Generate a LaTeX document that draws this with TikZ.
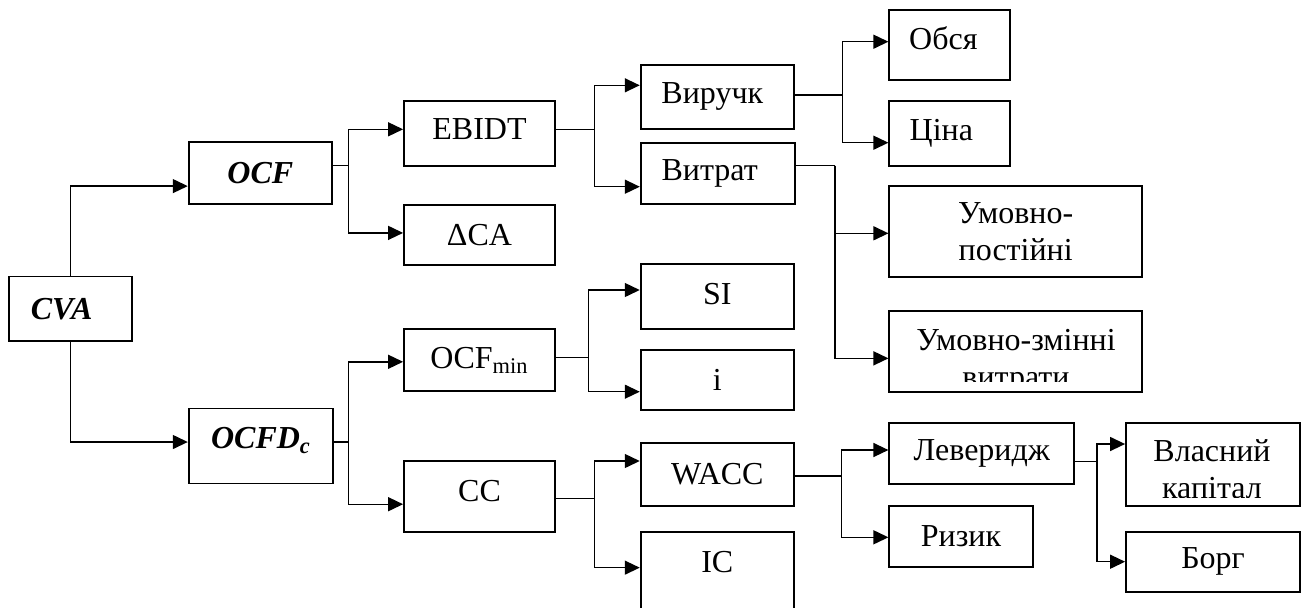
\documentclass[tikz,border=0pt]{standalone}
\usepackage{fontspec}
\setmainfont{Liberation Serif}
\usetikzlibrary{arrows.meta}
\newcommand{\lineWidth}[0]{0.7pt}
\newcommand{\boxWidth}[0]{0.9pt}
\newcommand{\nudge}[3]{\hspace*{#1}\raisebox{#2}[\height][\depth]{#3}\hspace*{-#1}}

\begin{document}
\begin{tikzpicture}[x=0.5pt, y=-0.5pt, line width=\lineWidth]
  \tikzset{box/.style 2 args={draw, line width=\boxWidth, inner sep=0pt, align=center,
      minimum width=#1*0.5pt, minimum height=#2*0.5pt, font=\fontsize{16}{18.4}\selectfont},
    txt/.style={inner sep=0pt, align=center, font=\fontsize{16}{18.4}\selectfont},
    tip/.style={-{Triangle[length=7.5pt,width=7pt]}}}
  \useasboundingbox (0,0) rectangle (1306,607);
  % boxes
  \node[box={122.7}{64.9}] (CVA) at (70.7,308.9) {\nudge{-4.5pt}{0pt}{\textbf{\textit{CVA}}}};
  \node[box={143.3}{62.2}] (OCF) at (260.3,172.8) {\textbf{\textit{OCF}}};
  \node[box={144.6}{74.9}] (OCFD) at (261,446) {\nudge{0pt}{2.75pt}{\textbf{\textit{OCFD\textsubscript{c}}}}};
  \node[box={151}{65}] (EBIDT) at (479.5,133.2) {\nudge{0pt}{2pt}{EBIDT}};
  \node[box={151}{60.3}] (DCA) at (479.5,234.9) {ΔCA};
  \node[box={151}{62}] (OCFmin) at (479.5,360.3) {OCF\textsubscript{min}};
  \node[box={151}{70.7}] (CC) at (479.5,496.4) {\nudge{0pt}{2.8pt}{CC}};
  \node[box={153.3}{64.3}] (Rev) at (717.3,96.8) {\nudge{-2.5pt}{0pt}{Виручк}};
  \node[box={154}{61.3}] (Cost) at (717.7,173.3) {\nudge{-4pt}{0pt}{Витрат}};
  \node[box={153.3}{65}] (SI) at (717.3,296.8) {\nudge{0pt}{1.3pt}{SI}};
  \node[box={153.3}{60.3}] (I) at (717.3,379.8) {i};
  \node[box={153.3}{63}] (WACC) at (717.3,474.5) {WACC};
  \node[box={153.3}{90.3}] (IC) at (717.3,576.85) {\nudge{0pt}{7.2pt}{IC}};
  \node[box={120.4}{70}] (Vol) at (949.5,45) {\nudge{-3.1pt}{3.35pt}{Обся}};
  \node[box={120.4}{65}] (Price) at (949.5,133.2) {\nudge{-4.1pt}{0pt}{Ціна}};
  \node[box={252.7}{91}] (Fix) at (1015.7,231.8) {Умовно-\\постійні};
  \node[box={252.7}{80.7}] (Var) at (1015.7,351.35) {};
  \node[box={185}{61.6}] (Lev) at (981.8,453.5) {Леверидж};
  \node[box={143.4}{61.6}] (Risk) at (961,536.5) {Ризик};
  \node[box={174}{83}] (Eq) at (1213,464.2) {};
  \node[box={174}{60}] (Debt) at (1213,561.7) {Борг};
  % texts cut off at the bottom of their boxes
  \begin{scope}
    \clip (Var.north west) rectangle ([yshift=5.5pt]Var.south east);
    \node[txt, anchor=base] (VarText) at (1016,387.7) {Умовно-змінні\\витрати};
  \end{scope}
  \begin{scope}
    \clip (Eq.north west) rectangle ([yshift=4.5pt]Eq.south east);
    \node[txt, anchor=base] (EqText) at (1212,498.4) {Власний\\капітал};
  \end{scope}
  % connectors
  \draw[tip] (CVA.north) |- ([yshift=-6.65pt]OCF.west);
  \draw[tip] (CVA.south) |- ([yshift=2pt]OCFD.west);
  \draw ([yshift=3.75pt]OCF.east) -- ++(15.7,0) coordinate (jOCF);
  \draw[tip] (jOCF) |- ([yshift=1.95pt]EBIDT.west);
  \draw[tip] (jOCF) |- ([yshift=1pt]DCA.west);
  \draw ([yshift=2pt]OCFD.east) -- ++(14.4,0) coordinate (jOCFD);
  \draw[tip] (jOCFD) |- ([yshift=-0.75pt]OCFmin.west);
  \draw[tip] (jOCFD) |- ([yshift=-3.9pt]CC.west);
  \draw ([yshift=1.95pt]EBIDT.east) -- ++(38.3,0) coordinate (jEBIDT);
  \draw[tip] (jEBIDT) |- ([yshift=5.75pt]Rev.west);
  \draw[tip] (jEBIDT) |- ([yshift=-6.7pt]Cost.west);
  \draw ([yshift=0.9pt]Rev.east) -- ++(47.7,0) coordinate (jRev);
  \draw[tip] (jRev) |- ([yshift=1.65pt]Vol.west);
  \draw[tip] (jRev) |- ([yshift=-4.75pt]Price.west);
  \draw ([yshift=3.8pt]Cost.east) -- ++(39.3,0) coordinate (jCost);
  \draw[tip] (jCost) |- ([yshift=-0.75pt]Fix.west);
  \draw[tip] (jCost) |- ([yshift=-3.5pt]Var.west);
  \draw ([yshift=1.5pt]OCFmin.east) -- ++(32.3,0) coordinate (jOCFmin);
  \draw[tip] (jOCFmin) |- ([yshift=3.4pt]SI.west);
  \draw[tip] (jOCFmin) |- ([yshift=-5.95pt]I.west);
  \draw ([yshift=-0.95pt]CC.east) -- ++(38.3,0) coordinate (jCC);
  \draw[tip] (jCC) |- ([yshift=6.75pt]WACC.west);
  \draw[tip] (jCC) |- ([yshift=4.6pt]IC.west);
  \draw ([yshift=-0.75pt]WACC.east) -- ++(46.7,0) coordinate (jWACC);
  \draw[tip] (jWACC) |- ([yshift=1.75pt]Lev.west);
  \draw[tip] (jWACC) |- ([yshift=-0.4pt]Risk.west);
  \draw ([yshift=-4.1pt]Lev.east) -- ++(21.7,0) coordinate (jLev);
  \draw[tip] (jLev) |- ([yshift=10.1pt]Eq.west);
  \draw[tip] (jLev) |- (Debt.west);
\end{tikzpicture}
\end{document}
